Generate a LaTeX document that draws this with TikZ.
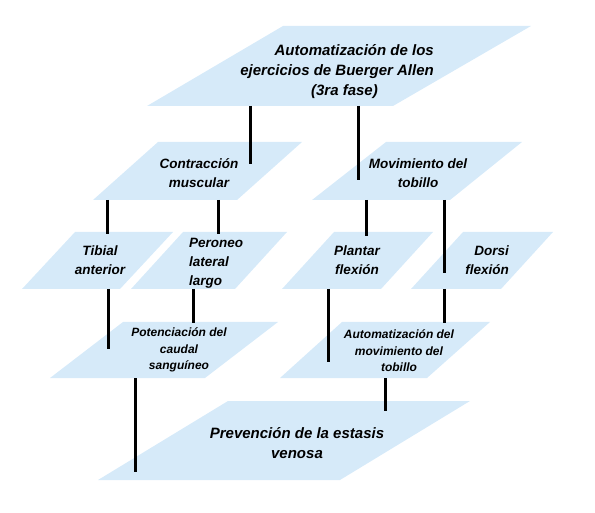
\documentclass[tikz,border=0pt]{standalone}
\usepackage{fontspec}
\setmainfont{Liberation Sans}
\definecolor{boxblue}{RGB}{214,234,249}
\begin{document}
\begin{tikzpicture}[x=1pt,y=-1pt,
  para/.style={fill=boxblue},
  conn/.style={line width=3pt, draw=black},
  bigtxt/.style={inner sep=0pt, text=black, font=\fontsize{15}{20}\selectfont\bfseries\itshape},
  midtxt/.style={inner sep=0pt, text=black, font=\fontsize{13.5}{19}\selectfont\bfseries\itshape},
  smalltxt/.style={inner sep=0pt, text=black, font=\fontsize{12}{16.5}\selectfont\bfseries\itshape}]
\useasboundingbox (0,0) rectangle (595,513);

% shapes (parallelograms)
\fill[para] (283,26) -- (531,26) -- (393,106) -- (147,106) -- cycle;
\fill[para] (158,142) -- (302,142) -- (237,200) -- (93,200) -- cycle;
\fill[para] (386,142) -- (522,142) -- (450,200) -- (312,200) -- cycle;
\fill[para] (75,232) -- (173,232) -- (120,289) -- (22,289) -- cycle;
\fill[para] (183,232) -- (287,232) -- (235,289) -- (131,289) -- cycle;
\fill[para] (334,232) -- (433,232) -- (381,289) -- (282,289) -- cycle;
\fill[para] (463,232) -- (553,232) -- (501,289) -- (411,289) -- cycle;
\fill[para] (123,322) -- (278,322) -- (205,378) -- (50,378) -- cycle;
\fill[para] (342,322) -- (490,322) -- (427,378) -- (280,378) -- cycle;
\fill[para] (228,401) -- (470,401) -- (340,480) -- (98,480) -- cycle;

% texts
\node[bigtxt, align=right, anchor=east] (top) at (434,72)
  {Automatización de los\\ejercicios de Buerger Allen\\(3ra fase)\hspace*{56pt}};
\node[midtxt, align=center] (contr) at (199,173) {Contracción\\muscular};
\node[midtxt, align=center] (movim) at (418,173) {Movimiento del\\tobillo};
\node[midtxt, align=center] (tibial) at (100,260) {Tibial\\anterior};
\node[midtxt, align=left, anchor=west] (peron) at (189,263) {Peroneo\\lateral\\largo};
\node[midtxt, align=center] (plant) at (357,260) {Plantar\\flexión};
\node[midtxt, align=right, anchor=east] (dorsi) at (509,260) {Dorsi\\flexión};
\node[smalltxt, align=center] (poten) at (179,350) {Potenciación del\\caudal\\sanguíneo};
\node[smalltxt, align=center] (autom) at (399,351) {Automatización del\\movimiento del\\tobillo};
\node[bigtxt, align=center] (preven) at (297,443) {Prevención de la estasis\\venosa};

% connector end points
\coordinate (topA) at (250,106);   \coordinate (contrIn) at (250,164);
\coordinate (topB) at (358,106);   \coordinate (movimIn) at (358,180);
\coordinate (contrA) at (107,200); \coordinate (tibialTop) at (107,234);
\coordinate (contrB) at (218,200); \coordinate (peronTop) at (218,234);
\coordinate (movimA) at (366,200); \coordinate (plantTop) at (366,236);
\coordinate (movimB) at (444,200); \coordinate (dorsiIn) at (444,273);
\coordinate (tibialBot) at (108,289); \coordinate (potenIn) at (108,349);
\coordinate (peronBot) at (193,289);  \coordinate (potenTop) at (193,323);
\coordinate (plantBot) at (328,289);  \coordinate (automIn) at (328,362);
\coordinate (dorsiBot) at (444,289);  \coordinate (automTop) at (444,323);
\coordinate (potenBot) at (135,378);  \coordinate (prevenIn) at (135,472);
\coordinate (automBot) at (385,378);  \coordinate (prevenTop) at (385,411);

\draw[conn] (topA) -- (contrIn);
\draw[conn] (topB) -- (movimIn);
\draw[conn] (contrA) -- (tibialTop);
\draw[conn] (contrB) -- (peronTop);
\draw[conn] (movimA) -- (plantTop);
\draw[conn] (movimB) -- (dorsiIn);
\draw[conn] (tibialBot) -- (potenIn);
\draw[conn] (peronBot) -- (potenTop);
\draw[conn] (plantBot) -- (automIn);
\draw[conn] (dorsiBot) -- (automTop);
\draw[conn] (potenBot) -- (prevenIn);
\draw[conn] (automBot) -- (prevenTop);
\end{tikzpicture}
\end{document}
